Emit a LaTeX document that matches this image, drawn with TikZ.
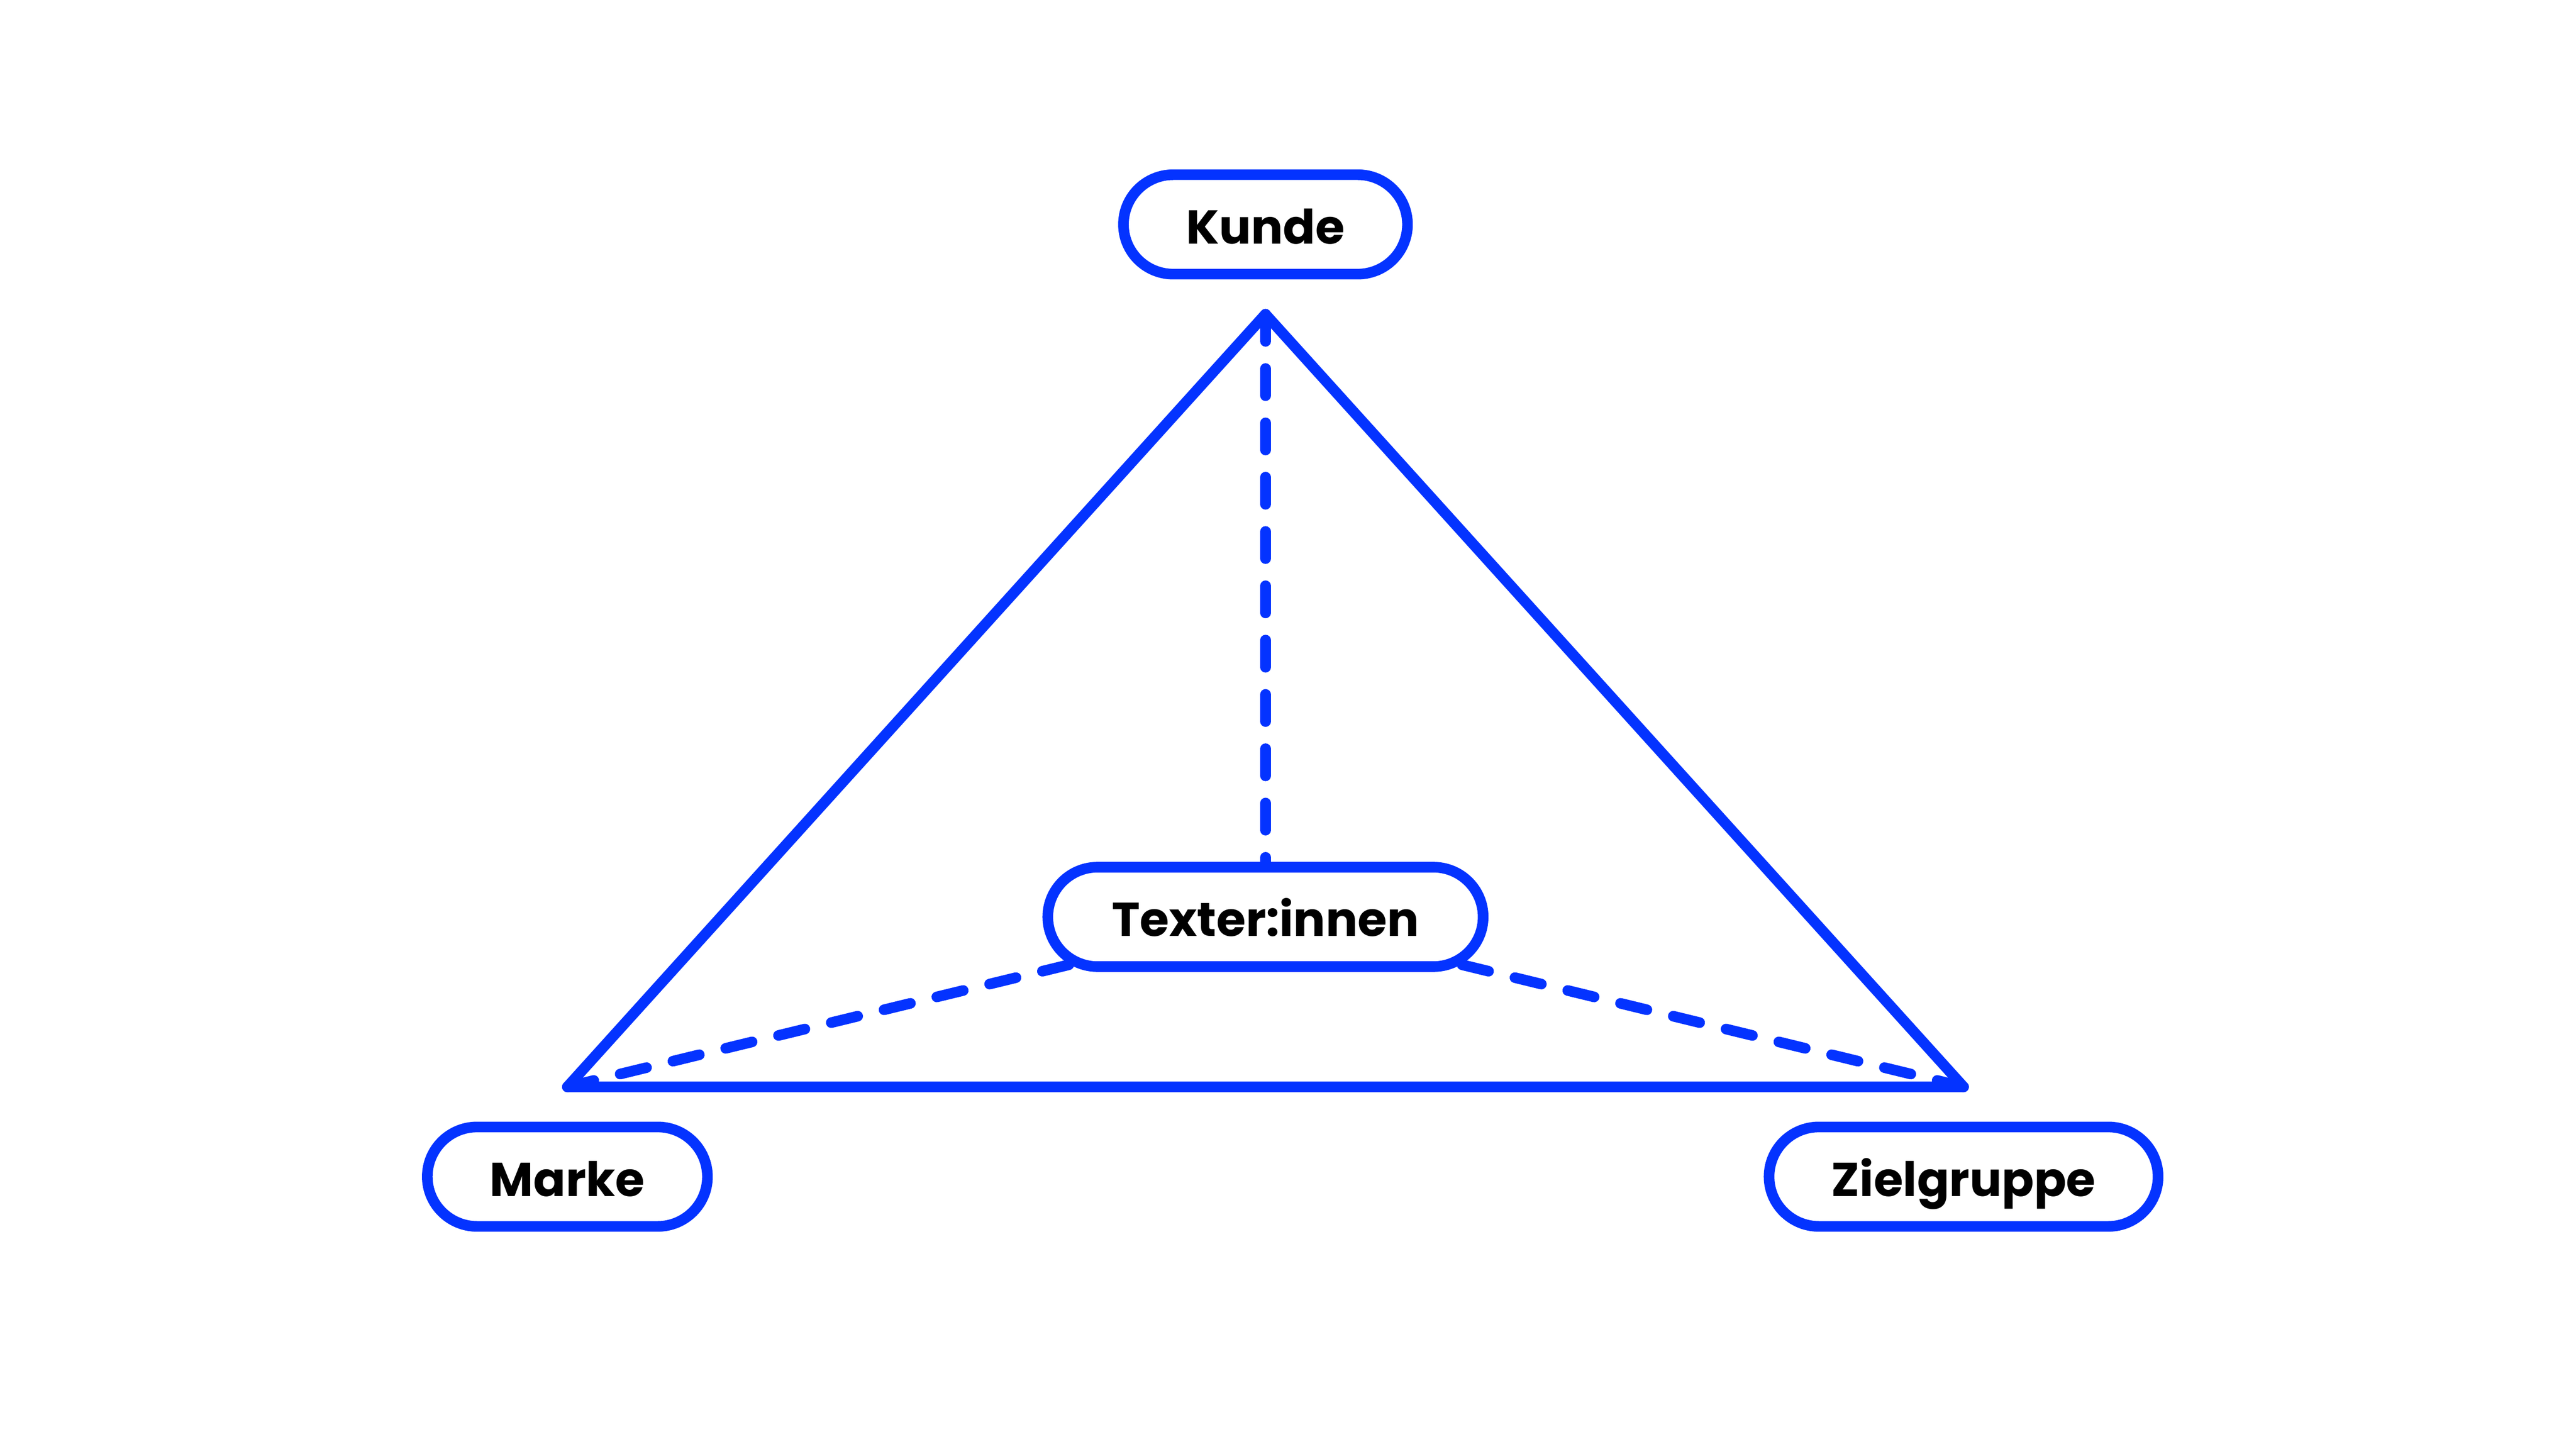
\documentclass[tikz,border=0pt]{standalone}
\usepackage{fontspec}
\setmainfont{Poppins}
\usetikzlibrary{positioning,backgrounds}
\definecolor{kblue}{RGB}{4,51,255}

\begin{document}
\begin{tikzpicture}[role/.style={draw=kblue, line width=2.35pt, fill=white, rectangle, rounded corners=0.386cm, minimum height=0.772cm, inner sep=0pt, text height=8.6pt, text depth=0pt, font=\fontsize{10.5}{12.5}\selectfont\bfseries}, tri/.style={draw=kblue, line width=2.35pt, line join=round, line cap=round}, link/.style={kblue, line width=2.35pt, line cap=round, dash pattern=on 6pt off 6pt}, node distance=0.27cm]
    \useasboundingbox (0,0) rectangle (20,11.25);
    \coordinate (top) at (9.825,8.81);
    \coordinate (lc) at (4.405,2.81);
    \coordinate (rc) at (15.245,2.81);

    \node[role, minimum width=2.205cm, above=of top] (kunde) {Kunde};
    \node[role, minimum width=2.175cm, below=of lc] (marke) {Marke};
    \node[role, minimum width=3.02cm, below=of rc] (ziel) {Zielgruppe};
    \node[role, minimum width=3.38cm] (texter) at (9.825,4.13) {Texter:innen};

    \draw[tri] (top) -- (lc) -- (rc) -- cycle;
    \begin{scope}[on background layer]
        \draw[link] (top) -- (texter.center);
        \draw[link] (lc) -- (texter.center);
        \draw[link] (rc) -- (texter.center);
    \end{scope}

\end{tikzpicture}
\end{document}
